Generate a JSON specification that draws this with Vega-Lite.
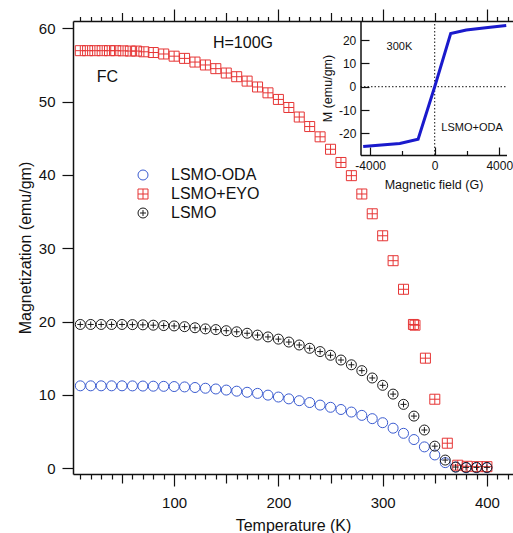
{
  "$schema": "https://vega.github.io/schema/vega-lite/v6.json",
  "autosize": {"type": "none"},
  "width": 440,
  "height": 453,
  "padding": {"left": 73, "top": 21, "right": 0, "bottom": 59},
  "background": "white",
  "config": {
    "view": {"stroke": null},
    "font": "Liberation Sans",
    "axis": {"domainColor": "#111", "tickColor": "#111", "labelColor": "#111", "titleColor": "#111", "domainWidth": 1.5, "tickWidth": 1.2, "grid": false, "titleFontWeight": "normal", "labelFont": "Liberation Sans", "titleFont": "Liberation Sans"}
  },
  "datasets": {
    "main": [
      {"series": "LSMO-ODA", "T": 10, "M": 11.23}, {"series": "LSMO-ODA", "T": 20, "M": 11.23}, {"series": "LSMO-ODA", "T": 30, "M": 11.23}, {"series": "LSMO-ODA", "T": 40, "M": 11.23}, {"series": "LSMO-ODA", "T": 50, "M": 11.23}, {"series": "LSMO-ODA", "T": 60, "M": 11.22}, {"series": "LSMO-ODA", "T": 70, "M": 11.2}, {"series": "LSMO-ODA", "T": 80, "M": 11.18}, {"series": "LSMO-ODA", "T": 90, "M": 11.16}, {"series": "LSMO-ODA", "T": 100, "M": 11.13}, {"series": "LSMO-ODA", "T": 110, "M": 11.08}, {"series": "LSMO-ODA", "T": 120, "M": 11.0}, {"series": "LSMO-ODA", "T": 130, "M": 10.9}, {"series": "LSMO-ODA", "T": 140, "M": 10.8}, {"series": "LSMO-ODA", "T": 150, "M": 10.65}, {"series": "LSMO-ODA", "T": 160, "M": 10.5}, {"series": "LSMO-ODA", "T": 170, "M": 10.35}, {"series": "LSMO-ODA", "T": 180, "M": 10.2}, {"series": "LSMO-ODA", "T": 190, "M": 9.96}, {"series": "LSMO-ODA", "T": 200, "M": 9.7}, {"series": "LSMO-ODA", "T": 210, "M": 9.45}, {"series": "LSMO-ODA", "T": 220, "M": 9.2}, {"series": "LSMO-ODA", "T": 230, "M": 8.95}, {"series": "LSMO-ODA", "T": 240, "M": 8.6}, {"series": "LSMO-ODA", "T": 250, "M": 8.3}, {"series": "LSMO-ODA", "T": 260, "M": 8.0}, {"series": "LSMO-ODA", "T": 270, "M": 7.65}, {"series": "LSMO-ODA", "T": 280, "M": 7.2}, {"series": "LSMO-ODA", "T": 290, "M": 6.75}, {"series": "LSMO-ODA", "T": 300, "M": 6.2}, {"series": "LSMO-ODA", "T": 310, "M": 5.45}, {"series": "LSMO-ODA", "T": 320, "M": 4.75}, {"series": "LSMO-ODA", "T": 330, "M": 3.9}, {"series": "LSMO-ODA", "T": 340, "M": 2.9}, {"series": "LSMO-ODA", "T": 350, "M": 1.8}, {"series": "LSMO-ODA", "T": 360, "M": 0.75}, {"series": "LSMO-ODA", "T": 370, "M": 0.15}, {"series": "LSMO-ODA", "T": 380, "M": 0.05}, {"series": "LSMO-ODA", "T": 390, "M": 0.05}, {"series": "LSMO-ODA", "T": 400, "M": 0.05},
      {"series": "LSMO+EYO", "T": 10, "M": 56.95}, {"series": "LSMO+EYO", "T": 17, "M": 56.95}, {"series": "LSMO+EYO", "T": 24, "M": 56.95}, {"series": "LSMO+EYO", "T": 31, "M": 56.95}, {"series": "LSMO+EYO", "T": 38, "M": 56.95}, {"series": "LSMO+EYO", "T": 44, "M": 56.95}, {"series": "LSMO+EYO", "T": 51, "M": 56.93}, {"series": "LSMO+EYO", "T": 58, "M": 56.9}, {"series": "LSMO+EYO", "T": 64, "M": 56.9}, {"series": "LSMO+EYO", "T": 71, "M": 56.8}, {"series": "LSMO+EYO", "T": 80, "M": 56.7}, {"series": "LSMO+EYO", "T": 90, "M": 56.5}, {"series": "LSMO+EYO", "T": 100, "M": 56.2}, {"series": "LSMO+EYO", "T": 110, "M": 55.9}, {"series": "LSMO+EYO", "T": 120, "M": 55.4}, {"series": "LSMO+EYO", "T": 130, "M": 55.0}, {"series": "LSMO+EYO", "T": 140, "M": 54.5}, {"series": "LSMO+EYO", "T": 150, "M": 53.9}, {"series": "LSMO+EYO", "T": 160, "M": 53.4}, {"series": "LSMO+EYO", "T": 170, "M": 52.8}, {"series": "LSMO+EYO", "T": 180, "M": 52.0}, {"series": "LSMO+EYO", "T": 190, "M": 51.2}, {"series": "LSMO+EYO", "T": 200, "M": 50.3}, {"series": "LSMO+EYO", "T": 210, "M": 49.2}, {"series": "LSMO+EYO", "T": 220, "M": 47.9}, {"series": "LSMO+EYO", "T": 230, "M": 46.6}, {"series": "LSMO+EYO", "T": 240, "M": 45.2}, {"series": "LSMO+EYO", "T": 250, "M": 43.5}, {"series": "LSMO+EYO", "T": 260, "M": 41.7}, {"series": "LSMO+EYO", "T": 270, "M": 39.9}, {"series": "LSMO+EYO", "T": 280, "M": 37.4}, {"series": "LSMO+EYO", "T": 290, "M": 34.7}, {"series": "LSMO+EYO", "T": 300, "M": 31.7}, {"series": "LSMO+EYO", "T": 310, "M": 28.3}, {"series": "LSMO+EYO", "T": 320, "M": 24.4}, {"series": "LSMO+EYO", "T": 329.5, "M": 19.6}, {"series": "LSMO+EYO", "T": 331, "M": 19.5}, {"series": "LSMO+EYO", "T": 341, "M": 15.0}, {"series": "LSMO+EYO", "T": 350, "M": 9.4}, {"series": "LSMO+EYO", "T": 362, "M": 3.4}, {"series": "LSMO+EYO", "T": 372, "M": 0.4}, {"series": "LSMO+EYO", "T": 381, "M": 0.25}, {"series": "LSMO+EYO", "T": 391, "M": 0.2}, {"series": "LSMO+EYO", "T": 400, "M": 0.2},
      {"series": "LSMO", "T": 10, "M": 19.6}, {"series": "LSMO", "T": 20, "M": 19.6}, {"series": "LSMO", "T": 30, "M": 19.6}, {"series": "LSMO", "T": 40, "M": 19.6}, {"series": "LSMO", "T": 50, "M": 19.6}, {"series": "LSMO", "T": 60, "M": 19.58}, {"series": "LSMO", "T": 70, "M": 19.55}, {"series": "LSMO", "T": 80, "M": 19.5}, {"series": "LSMO", "T": 90, "M": 19.45}, {"series": "LSMO", "T": 100, "M": 19.4}, {"series": "LSMO", "T": 110, "M": 19.3}, {"series": "LSMO", "T": 120, "M": 19.15}, {"series": "LSMO", "T": 130, "M": 19.0}, {"series": "LSMO", "T": 140, "M": 18.9}, {"series": "LSMO", "T": 150, "M": 18.75}, {"series": "LSMO", "T": 160, "M": 18.6}, {"series": "LSMO", "T": 170, "M": 18.4}, {"series": "LSMO", "T": 180, "M": 18.15}, {"series": "LSMO", "T": 190, "M": 17.9}, {"series": "LSMO", "T": 200, "M": 17.6}, {"series": "LSMO", "T": 210, "M": 17.2}, {"series": "LSMO", "T": 220, "M": 16.8}, {"series": "LSMO", "T": 230, "M": 16.35}, {"series": "LSMO", "T": 240, "M": 15.9}, {"series": "LSMO", "T": 250, "M": 15.4}, {"series": "LSMO", "T": 260, "M": 14.75}, {"series": "LSMO", "T": 270, "M": 14.1}, {"series": "LSMO", "T": 280, "M": 13.3}, {"series": "LSMO", "T": 290, "M": 12.3}, {"series": "LSMO", "T": 300, "M": 11.3}, {"series": "LSMO", "T": 310, "M": 10.1}, {"series": "LSMO", "T": 320, "M": 8.7}, {"series": "LSMO", "T": 330, "M": 7.1}, {"series": "LSMO", "T": 340, "M": 5.2}, {"series": "LSMO", "T": 350, "M": 3.0}, {"series": "LSMO", "T": 360, "M": 1.1}, {"series": "LSMO", "T": 370, "M": 0.15}, {"series": "LSMO", "T": 380, "M": 0.1}, {"series": "LSMO", "T": 390, "M": 0.1}, {"series": "LSMO", "T": 400, "M": 0.1}
    ],
    "notes": [
      {"T": 166, "M": 58, "label": "H=100G"},
      {"T": 36, "M": 53.3, "label": "FC"}
    ],
    "inset": [
      {"H": -4434, "Mi": -25.7}, {"H": -3300, "Mi": -25.0}, {"H": -2164, "Mi": -24.4}, {"H": -1030, "Mi": -22.5}, {"H": 0, "Mi": 0}, {"H": 990, "Mi": 22.8}, {"H": 1958, "Mi": 24.3}, {"H": 3300, "Mi": 25.4}, {"H": 4434, "Mi": 26.3}
    ],
    "refs": [
      {"H1": 0, "H2": 0, "M1": -29.3, "M2": 28.2},
      {"H1": -4600, "H2": 4450, "M1": 0, "M2": 0}
    ],
    "insetNotes": [
      {"H": -2190, "Mi": 17.1, "label": "300K"},
      {"H": 2315, "Mi": -17.6, "label": "LSMO+ODA"}
    ]
  },
  "layer": [
    {
      "layer": [
        {
          "data": {"name": "main"},
          "mark": {"type": "point", "filled": false, "strokeWidth": 1, "size": 100, "opacity": 1},
          "encoding": {
            "x": {"field": "T", "type": "quantitative", "scale": {"domain": [3, 425], "nice": false, "zero": false},
              "axis": {"orient": "bottom", "values": [10,20,30,40,50,60,70,80,90,100,110,120,130,140,150,160,170,180,190,200,210,220,230,240,250,260,270,280,290,300,310,320,330,340,350,360,370,380,390,400,410,420],
                "labelExpr": "datum.value % 100 === 0 ? '' + datum.value : ''",
                "tickSize": {"condition": [{"test": "datum.value % 100 === 0", "value": 12}, {"test": "datum.value % 50 === 0", "value": 9}], "value": 5},
                "labelPadding": 9.5, "labelFontSize": 15, "labelOverlap": false, "labelFlush": false,
                "title": "Temperature (K)", "titleFontSize": 16, "titlePadding": 7}},
            "y": {"field": "M", "type": "quantitative", "scale": {"domain": [-0.8, 61], "nice": false, "zero": false},
              "axis": {"values": [0,10,20,30,40,50,60], "tickSize": 11, "labelPadding": 7, "labelFontSize": 15,
                "title": "Magnetization (emu/gm)", "titleFontSize": 16, "titlePadding": 5}},
            "color": {"field": "series", "type": "nominal",
              "scale": {"domain": ["LSMO-ODA", "LSMO+EYO", "LSMO"], "range": ["#3a5bd0", "#e63535", "#1a1a1a"]},
              "legend": {"orient": "none", "legendX": 62, "legendY": 146, "title": null, "labelFontSize": 16, "labelFont": "Liberation Sans", "labelColor": "#111", "labelOffset": 20, "rowPadding": 3, "symbolSize": 100, "symbolStrokeWidth": 1, "padding": 0}},
            "shape": {"field": "series", "type": "nominal",
              "scale": {"domain": ["LSMO-ODA", "LSMO+EYO", "LSMO"], "range": ["circle", "M-1,-1H1V1H-1Z M0,-1V1 M-1,0H1", "M-1,0A1,1 0 1,1 1,0A1,1 0 1,1 -1,0Z M-0.6,0H0.6 M0,-0.6V0.6"]}}
          }
        },
        {
          "data": {"name": "main"},
          "mark": {"type": "point", "opacity": 0},
          "encoding": {
            "x": {"field": "T", "type": "quantitative",
              "axis": {"orient": "top", "values": [10,20,30,40,50,60,70,80,90,100,110,120,130,140,150,160,170,180,190,200,210,220,230,240,250,260,270,280,290,300,310,320,330,340,350,360,370,380,390,400,410,420],
                "labels": false, "title": null,
                "tickSize": {"condition": [{"test": "datum.value % 100 === 0", "value": 12}, {"test": "datum.value % 50 === 0", "value": 8.5}], "value": 4.5}}},
            "y": {"field": "M", "type": "quantitative", "axis": null}
          }
        },
        {
          "data": {"name": "notes"},
          "mark": {"type": "text", "fontSize": 16, "font": "Liberation Sans", "color": "#111"},
          "encoding": {
            "x": {"field": "T", "type": "quantitative", "axis": null},
            "y": {"field": "M", "type": "quantitative", "axis": null},
            "text": {"field": "label"}
          }
        }
      ],
      "resolve": {"axis": {"x": "independent", "y": "independent"}}
    },
    {
      "layer": [
        {
          "data": {"name": "refs"},
          "mark": {"type": "rule", "strokeDash": [1.5, 2], "strokeWidth": 1, "color": "#111"},
          "encoding": {
            "x": {"field": "H1", "type": "quantitative", "scale": {"domain": [-4600, 4450], "range": [287.5, 433.5], "nice": false, "zero": false},
              "axis": {"orient": "bottom", "offset": -319, "values": [-4000, -2000, 0, 2000, 4000],
                "labelExpr": "datum.value % 4000 === 0 ? '' + datum.value : ''",
                "tickSize": {"condition": {"test": "datum.value % 4000 === 0", "value": -8}, "value": -4.5},
                "labelPadding": 13, "labelFontSize": 12, "labelOverlap": false, "labelFlush": false,
                "title": "Magnetic field (G)", "titleFontSize": 12.5, "titlePadding": 4}},
            "x2": {"field": "H2"},
            "y": {"field": "M1", "type": "quantitative", "scale": {"domain": [-29.3, 28.2], "range": [134, 0], "nice": false, "zero": false},
              "axis": {"orient": "left", "offset": -287.5, "values": [-20, -10, 0, 10, 20],
                "labelExpr": "'' + datum.value", "tickSize": -8.5, "labelPadding": 13.2, "labelFontSize": 12,
                "title": "M (emu/gm)", "titleFontSize": 12.5, "titlePadding": 4}},
            "y2": {"field": "M2"}
          }
        },
        {
          "data": {"name": "inset"},
          "mark": {"type": "line", "color": "#1a1acc", "strokeWidth": 3},
          "encoding": {
            "x": {"field": "H", "type": "quantitative", "axis": null},
            "y": {"field": "Mi", "type": "quantitative", "axis": null}
          }
        },
        {
          "data": {"name": "insetNotes"},
          "mark": {"type": "text", "fontSize": 11, "font": "Liberation Sans", "color": "#111"},
          "encoding": {
            "x": {"field": "H", "type": "quantitative", "axis": null},
            "y": {"field": "Mi", "type": "quantitative", "axis": null},
            "text": {"field": "label"}
          }
        }
      ],
      "resolve": {"axis": {"x": "independent", "y": "independent"}}
    }
  ],
  "resolve": {"scale": {"x": "independent", "y": "independent"}, "axis": {"x": "independent", "y": "independent"}}
}
